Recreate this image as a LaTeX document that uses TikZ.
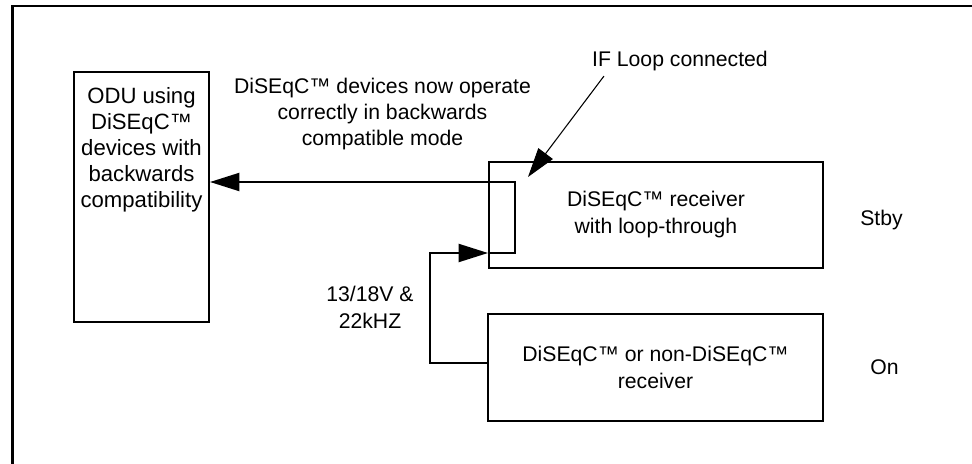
\documentclass[tikz,border=0pt]{standalone}
\usepackage{fontspec}
\setmainfont{Liberation Sans}
\usetikzlibrary{arrows.meta, positioning, calc}

\tikzset{
  box/.style={draw, line width=1.5pt, inner sep=0pt},
  txt/.style={inner sep=0pt, align=center, font=\fontsize{15.9}{19.3}\selectfont},
  pointer/.style={line width=1.5pt, -{Triangle[length=22pt, width=13.5pt]}},
}

\begin{document}
\begin{tikzpicture}[x=0.75pt, y=-0.75pt]
  \useasboundingbox (0,0) rectangle (972,464);
  \draw[line width=2pt] (972,6) -| (12.7,464);

  \node[box, minimum width=101.25pt, minimum height=187.5pt] (odu) at (141.5,197) {};
  \node[txt, anchor=north, font=\fontsize{16.6}{19.5}\selectfont] (odutxt) at (141.5,87)
    {ODU using\\DiSEqC™\\devices with\\backwards\\compatibility};

  \node[txt, anchor=north] (note) at (382.5,78)
    {DiSEqC™ devices now operate\\correctly in backwards\\compatible mode};
  \node[txt, anchor=north] (ifl) at (680,50.5) {IF Loop connected};

  \node[box, txt, minimum width=250.5pt, minimum height=79.5pt,
    font=\fontsize{15.9}{20.25}\selectfont] (rx1) at (656,215) {DiSEqC™ receiver\\with loop-through};
  \node[box, txt, minimum width=251.25pt, minimum height=80.25pt,
    font=\fontsize{15.9}{20.25}\selectfont] (rx2) at (655.5,367.5) {DiSEqC™ or non-DiSEqC™\\receiver};

  \node[txt, right=27pt of rx1, yshift=-3.4pt] (stby) {Stby};
  \node[txt, right=34.5pt of rx2] (on) {On};
  \node[txt, anchor=north, font=\fontsize{15.9}{20.5}\selectfont] (volt) at (370,285.5) {13/18V \&\\22kHZ};

  \coordinate (lpin) at ([yshift=-28.5pt]rx1.west);
  \coordinate (iftip) at (528,177);

  \draw[pointer] ([yshift=3.4pt]rx2.west) -| ([xshift=-43.5pt]lpin) -- (lpin);
  \draw[pointer] (lpin) -- ++(27,0) |- ([yshift=11.25pt]odu.east);
  \draw[pointer, line width=0.8pt] ([xshift=9pt,yshift=-4pt]ifl.south west) -- (iftip);
\end{tikzpicture}
\end{document}
